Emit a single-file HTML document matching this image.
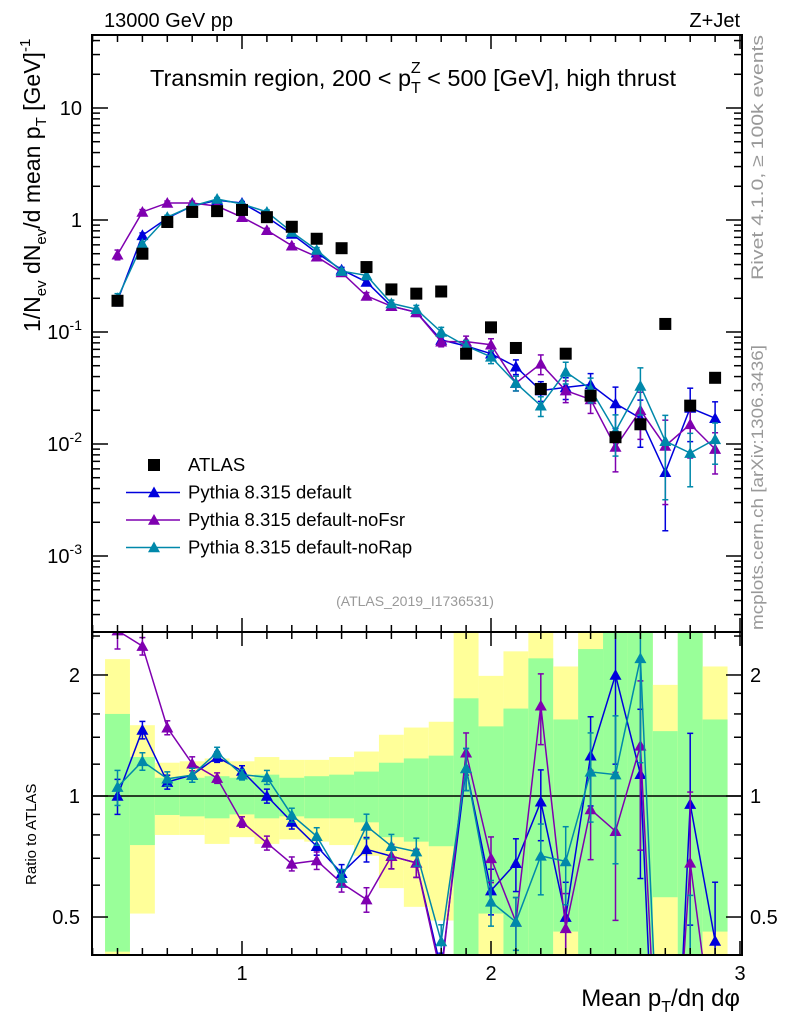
<!DOCTYPE html>
<html><head><meta charset="utf-8"><style>
html,body{margin:0;padding:0;background:#fff;width:786px;height:1024px;overflow:hidden}
svg{display:block;font-family:"Liberation Sans",sans-serif}
</style></head><body>
<svg id="c" width="786" height="1024" viewBox="0 0 786 1024">
<defs>
<clipPath id="cm"><rect x="92" y="35" width="650" height="597"/></clipPath>
<clipPath id="cr"><rect x="92" y="632" width="650" height="323"/></clipPath>
</defs>
<g id="bands" clip-path="url(#cr)"></g>
<g id="marks"></g>
<rect x="92" y="35" width="650" height="597" fill="none" stroke="#000" stroke-width="2"/>
<rect x="92" y="632" width="650" height="323" fill="none" stroke="#000" stroke-width="2"/>
<g id="ticks" stroke="#000"></g>
<g id="labels"></g>
<text x="104" y="27" font-size="20">13000 GeV pp</text>
<text x="740" y="27" font-size="20" text-anchor="end">Z+Jet</text>
<text x="150" y="86" font-size="23.5">Transmin region, 200 &lt; p<tspan font-size="16" dy="7">T</tspan><tspan font-size="16" dx="-10" dy="-20">Z</tspan><tspan dy="13"> &lt; 500 [GeV], high thrust</tspan></text>
<text transform="translate(40,332) rotate(-90)" font-size="23">1/N<tspan font-size="15" dy="6">ev</tspan><tspan dy="-6"> dN</tspan><tspan font-size="15" dy="6">ev</tspan><tspan dy="-6">/d mean p</tspan><tspan font-size="15" dy="6">T</tspan><tspan dy="-6"> [GeV]</tspan><tspan font-size="15" dy="-10">-1</tspan></text>
<text transform="translate(36,885) rotate(-90)" font-size="15">Ratio to ATLAS</text>
<text transform="translate(763,280) rotate(-90)" font-size="17" fill="#999" textLength="245" lengthAdjust="spacingAndGlyphs">Rivet 4.1.0, ≥ 100k events</text>
<text transform="translate(763,630) rotate(-90)" font-size="17" fill="#999" textLength="285" lengthAdjust="spacingAndGlyphs">mcplots.cern.ch [arXiv:1306.3436]</text>
<text x="415" y="606" font-size="14" fill="#999" text-anchor="middle">(ATLAS_2019_I1736531)</text>
<text x="740" y="1006" font-size="24" text-anchor="end">Mean p<tspan font-size="16" dy="6">T</tspan><tspan dy="-6">/dη dφ</tspan></text>
<g id="legend"></g>
</svg>
<script>
const xs=[0.5,0.6,0.7,0.8,0.9,1.0,1.1,1.2,1.3,1.4,1.5,1.6,1.7,1.8,1.9,2.0,2.1,2.2,2.3,2.4,2.5,2.6,2.7,2.8,2.9];
const atlas=[0.19,0.50,0.96,1.18,1.2,1.23,1.06,0.87,0.68,0.56,0.38,0.24,0.22,0.23,0.064,0.11,0.072,0.031,0.064,0.027,0.0115,0.015,0.118,0.022,0.039];
const pyDef=[0.19,0.73,1.04,1.33,1.5,1.42,1.06,0.75,0.51,0.36,0.28,0.17,0.15,0.085,0.075,0.064,0.049,0.030,0.032,0.034,0.023,0.017,0.0056,0.021,0.017];
const pyNoFsr=[0.49,1.18,1.42,1.42,1.33,1.06,0.81,0.59,0.47,0.34,0.21,0.17,0.15,0.082,0.082,0.077,0.035,0.052,0.030,0.025,0.0094,0.020,0.0096,0.015,0.0090];
const pyNoRap=[0.2,0.61,1.06,1.33,1.54,1.39,1.18,0.78,0.54,0.35,0.32,0.18,0.16,0.10,0.075,0.06,0.035,0.022,0.044,0.031,0.013,0.033,0.0106,0.0083,0.011];
const relErr=[0.1,0.05,0.04,0.04,0.03,0.03,0.04,0.04,0.05,0.05,0.07,0.07,0.08,0.1,0.12,0.13,0.15,0.2,0.22,0.25,0.4,0.45,0.7,0.5,0.4];
const greenHi=[1.6,1.25,1.11,1.11,1.12,1.11,1.13,1.11,1.12,1.13,1.15,1.21,1.24,1.26,1.75,1.49,1.65,2.2,1.55,2.32,3,3,1.45,3,1.55];
const greenLo=[0.41,0.755,0.897,0.89,0.88,0.9,0.88,0.89,0.88,0.88,0.86,0.79,0.77,0.75,0.3,0.51,0.3,0.3,0.46,0.3,0.3,0.3,0.56,0.3,0.46];
const yellowHi=[2.19,1.5,1.21,1.22,1.24,1.22,1.25,1.23,1.23,1.25,1.29,1.42,1.48,1.53,3,1.99,2.29,3,2.1,3,3,3,1.89,3,2.1];
const yellowLo=[0.39,0.51,0.8,0.8,0.76,0.79,0.76,0.78,0.77,0.755,0.71,0.59,0.53,0.49,0.3,0.3,0.3,0.3,0.3,0.3,0.3,0.3,0.3,0.3,0.3];
const yMainTicks=[10,1,0.1,0.01,0.001];
const yMainLabels=["10","1","10^-1","10^-2","10^-3"];
const yRatioTicks=[2,1,0.5];
const xTicks=[1,2,3];

const NS="http://www.w3.org/2000/svg";
const X=v=>242+(v-1)*249;
const YM=v=>220-Math.log10(v)*112;
const YR=v=>796-Math.log10(v)*402;
function mk(tag,attrs,parent){const e=document.createElementNS(NS,tag);for(const k in attrs)e.setAttribute(k,attrs[k]);parent.appendChild(e);return e;}
const bands=document.getElementById('bands'),marks=document.getElementById('marks'),ticks=document.getElementById('ticks'),labels=document.getElementById('labels');

xs.forEach((x,i)=>{
  const x0=X(x-0.05),w=X(x+0.05)-x0;
  const y1=mk('rect',{x:x0,y:YR(yellowHi[i]),width:w,height:YR(yellowLo[i])-YR(yellowHi[i]),fill:'#ffff99'},bands);
  
  
  const g1=mk('rect',{x:x0,y:YR(greenHi[i]),width:w,height:YR(greenLo[i])-YR(greenHi[i]),fill:'#99ff99'},bands);
  
  
});
const one=mk('line',{x1:92,x2:742,y1:YR(1),y2:YR(1),stroke:'#000','stroke-width':1.5},bands);



function tk(x1,y1,x2,y2,w){mk('line',{x1,y1,x2,y2,'stroke-width':w||1.5},ticks);}
for(let v=0.4;v<=3.001;v+=0.1){
  const x=X(v),maj=Math.abs(v-Math.round(v))<1e-6, L=maj?14:7;
  tk(x,35,x,35+L);tk(x,632,x,632-L);tk(x,632,x,632+L);tk(x,955,x,955-L);
}
for(let d=-4;d<=1;d++){for(let m=1;m<10;m++){const v=m*Math.pow(10,d);const y=YM(v);if(y<35||y>632)continue;const L=m==1?16:8;tk(92,y,92+L,y);tk(742,y,742-L,y);}}
[0.5,0.6,0.7,0.8,0.9,1,1.2,1.4,1.6,1.8,2,2.5].forEach(v=>{const y=YR(v);if(y<632||y>955)return;const L=(v==0.5||v==1||v==2)?16:8;tk(92,y,92+L,y);tk(742,y,742-L,y);});

xTicks.forEach(v=>{const t=mk('text',{x:X(v),y:980,'font-size':20,'text-anchor':'middle'},labels);t.textContent=v;

});
yMainTicks.forEach((v,i)=>{const s=yMainLabels[i];const t=mk('text',{x:82,y:YM(v)+7,'font-size':20,'text-anchor':'end'},labels);
if(s.includes('^')){const [b,e]=s.split('^');t.textContent=b;const ts=mk('tspan',{'font-size':14,dy:-9},t);ts.textContent=e;}else t.textContent=s;

});
yRatioTicks.forEach(v=>{const t=mk('text',{x:80,y:YR(v)+7,'font-size':20,'text-anchor':'end'},labels);t.textContent=v;


const t2=mk('text',{x:750,y:YR(v)+7,'font-size':20},labels);t2.textContent=v;

});

function tri(g,x,y,c,s){mk('path',{d:`M${x} ${y-s} L${x+s} ${y+s*0.8} L${x-s} ${y+s*0.8} Z`,fill:c},g);}
const series=[{v:pyDef,c:'#0000dd',n:'pythia-default'},{v:pyNoFsr,c:'#7f00b0',n:'pythia-nofsr'},{v:pyNoRap,c:'#0088aa',n:'pythia-norap'}];
const gm=mk('g',{'clip-path':'url(#cm)'},marks);
const gr=mk('g',{'clip-path':'url(#cr)'},marks);
series.forEach(s=>{
  [[gm,YM,i=>s.v[i]],[gr,YR,i=>s.v[i]/atlas[i]]].forEach(([par,Y,f])=>{
    const g=mk('g',{},par);
    
    
    mk('polyline',{points:xs.map((x,i)=>X(x)+','+Y(f(i))).join(' '),fill:'none',stroke:s.c,'stroke-width':1.5},g);
    xs.forEach((x,i)=>{const v=f(i),e=relErr[i]*v,hi=Y(v+e),lo=Y(Math.max(v-e,1e-6)),px=X(x);
      mk('line',{x1:px,x2:px,y1:hi,y2:lo,stroke:s.c,'stroke-width':1.5},g);
      mk('line',{x1:px-3,x2:px+3,y1:hi,y2:hi,stroke:s.c,'stroke-width':1.5},g);
      mk('line',{x1:px-3,x2:px+3,y1:lo,y2:lo,stroke:s.c,'stroke-width':1.5},g);
      tri(g,px,Y(v),s.c,6);});
  });
});
const ga=mk('g',{'clip-path':'url(#cm)'},marks);


xs.forEach((x,i)=>{mk('rect',{x:X(x)-6,y:YM(atlas[i])-6,width:12,height:12,fill:'#000'},ga);});

const lg=document.getElementById('legend');
mk('rect',{x:148,y:459,width:12,height:12,fill:'#000'},lg);
const items=[['ATLAS',null],['Pythia 8.315 default','#0000dd'],['Pythia 8.315 default-noFsr','#7f00b0'],['Pythia 8.315 default-noRap','#0088aa']];
items.forEach((it,k)=>{const y=465+k*27.5;
  if(it[1]){mk('line',{x1:126,x2:180,y1:y,y2:y,stroke:it[1],'stroke-width':1.5},lg);tri(lg,154,y,it[1],6);}
  const t=mk('text',{x:188,y:y+6,'font-size':18.5},lg);t.textContent=it[0];
  
  
});
</script>
</body></html>
